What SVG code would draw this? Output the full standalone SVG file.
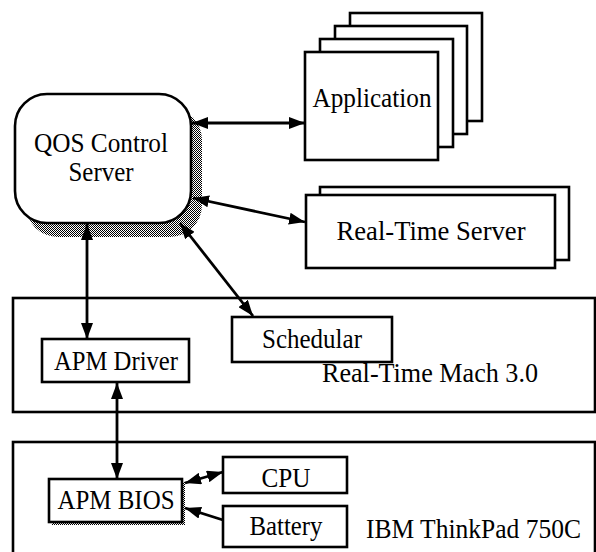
<svg xmlns="http://www.w3.org/2000/svg" width="596" height="552" viewBox="0 0 596 552">
<defs>
<style>
.bx{fill:#fff;stroke:#000;stroke-width:2.6}
.lay{fill:#fff;stroke:#000;stroke-width:2.6}
.t{font-family:"Liberation Serif","Times New Roman",serif;font-size:26.5px;fill:#000;text-anchor:middle}
.tl{font-family:"Liberation Serif","Times New Roman",serif;font-size:26.5px;fill:#000}
.c{stroke:#000;stroke-width:2.8;fill:none}
</style>
<pattern id="dots" width="2" height="2" patternUnits="userSpaceOnUse">
<rect x="0" y="0" width="1" height="1" fill="#000"/>
<rect x="1" y="1" width="1" height="1" fill="#000"/>
</pattern>
<marker id="ah" markerUnits="userSpaceOnUse" markerWidth="17" markerHeight="12" refX="16" refY="6" orient="auto-start-reverse">
<path d="M0,0 L16,6 L0,12 Z" fill="#000"/>
</marker>
</defs>
<rect width="596" height="552" fill="#fff"/>

<g id="layer-mach">
<rect class="lay" x="13" y="298" width="582" height="114"/>
<text class="tl" x="322" y="382" textLength="216" lengthAdjust="spacingAndGlyphs">Real-Time Mach 3.0</text>
</g>
<g id="layer-thinkpad">
<rect class="lay" x="13" y="442" width="582" height="130"/>
<text class="tl" x="366" y="538" textLength="215" lengthAdjust="spacingAndGlyphs">IBM ThinkPad 750C</text>
</g>

<g id="qos">
<rect x="26" y="108" width="176" height="129" rx="32" fill="url(#dots)"/>
<rect class="bx" x="15" y="94" width="176" height="129" rx="32"/>
<text class="t" x="101" y="152" font-size="25" textLength="134" lengthAdjust="spacingAndGlyphs">QOS Control</text>
<text class="t" x="101" y="181" font-size="25" textLength="65" lengthAdjust="spacingAndGlyphs">Server</text>
</g>

<g id="application">
<rect class="bx" x="350" y="13" width="132" height="108"/>
<rect class="bx" x="335" y="26" width="132" height="108"/>
<rect class="bx" x="320" y="39" width="133" height="108"/>
<rect class="bx" x="305" y="52" width="133" height="108"/>
<text class="t" x="372" y="107" textLength="119" lengthAdjust="spacingAndGlyphs">Application</text>
</g>

<g id="realtime-server">
<rect class="bx" x="320" y="187" width="249" height="73"/>
<rect class="bx" x="306" y="195" width="249" height="73"/>
<text class="t" x="431" y="240" textLength="189" lengthAdjust="spacingAndGlyphs">Real-Time Server</text>
</g>

<g id="schedular">
<rect class="bx" x="232" y="317" width="160" height="45"/>
<text class="t" x="312" y="348" textLength="100" lengthAdjust="spacingAndGlyphs">Schedular</text>
</g>

<g id="apm-driver">
<rect class="bx" x="42" y="339" width="147" height="43"/>
<text class="t" x="116" y="370" textLength="124" lengthAdjust="spacingAndGlyphs">APM Driver</text>
</g>

<g id="apm-bios">
<rect x="52" y="482" width="133" height="43" fill="url(#dots)"/>
<rect class="bx" x="49" y="479" width="133" height="43"/>
<text class="t" x="116" y="509" textLength="117" lengthAdjust="spacingAndGlyphs">APM BIOS</text>
</g>

<g id="cpu">
<rect class="bx" x="223" y="457" width="124" height="36"/>
<text class="t" x="286" y="487" textLength="49" lengthAdjust="spacingAndGlyphs">CPU</text>
</g>

<g id="battery">
<rect class="bx" x="223" y="506" width="124" height="41"/>
<text class="t" x="286" y="535" textLength="73" lengthAdjust="spacingAndGlyphs">Battery</text>
</g>

<g id="connectors">
<line class="c" x1="192" y1="123" x2="305" y2="123" marker-start="url(#ah)" marker-end="url(#ah)"/>
<line class="c" x1="193" y1="198" x2="305" y2="222" marker-start="url(#ah)" marker-end="url(#ah)"/>
<line class="c" x1="180" y1="223" x2="253" y2="316" marker-start="url(#ah)" marker-end="url(#ah)"/>
<line class="c" x1="87" y1="224" x2="87" y2="339" marker-start="url(#ah)" marker-end="url(#ah)"/>
<line class="c" x1="117" y1="383" x2="117" y2="479" marker-start="url(#ah)" marker-end="url(#ah)"/>
<line class="c" x1="185" y1="483" x2="223" y2="472" marker-start="url(#ah)" marker-end="url(#ah)"/>
<line class="c" x1="223" y1="520" x2="185" y2="508" marker-end="url(#ah)"/>
</g>
</svg>
